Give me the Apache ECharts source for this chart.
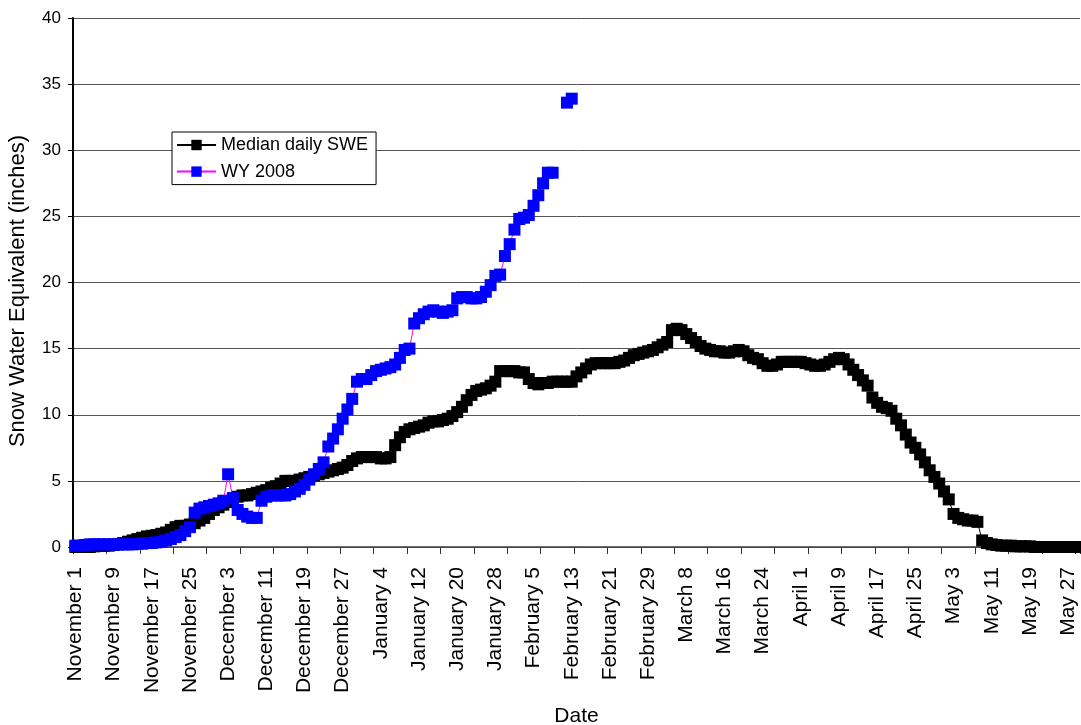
<!DOCTYPE html>
<html><head><meta charset="utf-8">
<script src="https://cdn.jsdelivr.net/npm/echarts@6/dist/echarts.min.js"></script>
<style>html,body{margin:0;padding:0;background:#fff}#chart{width:1081px;height:725px}</style>
</head><body><div id="chart"></div>
<script>
// Category labels: every day from November 1 through May 29
const monthNames = ['November', 'December', 'January', 'February', 'March', 'April', 'May'];
const monthDays = [30, 31, 31, 29, 31, 30, 29];
const categories = [];
monthNames.forEach(function (m, i) { for (let d = 1; d <= monthDays[i]; d++) categories.push(m + ' ' + d); });

// Median daily SWE (inches), one value per day
const medianSWE = [
  0, 0, 0, 0, 0.05, 0.1, 0.1, 0.1, 0.15, 0.2,
  0.3, 0.4, 0.5, 0.6, 0.7, 0.8, 0.85, 0.9, 1.0, 1.1,
  1.3, 1.5, 1.6, 1.6, 1.7, 1.8, 2.0, 2.2, 2.5, 2.8,
  3.0, 3.2, 3.4, 3.6, 3.8, 3.9, 3.9, 4.0, 4.1, 4.2,
  4.3, 4.5, 4.6, 4.8, 5.0, 5.0, 5.0, 5.1, 5.2, 5.3,
  5.4, 5.5, 5.6, 5.7, 5.8, 5.9, 6.0, 6.2, 6.5, 6.7,
  6.8, 6.8, 6.8, 6.8, 6.7, 6.7, 6.8, 7.7, 8.3, 8.7,
  8.9, 9.0, 9.1, 9.2, 9.4, 9.5, 9.5, 9.6, 9.7, 9.9,
  10.2, 10.6, 11.1, 11.5, 11.8, 11.9, 12.0, 12.2, 12.5, 13.3,
  13.3, 13.3, 13.3, 13.2, 13.2, 12.7, 12.4, 12.3, 12.4, 12.4,
  12.5, 12.5, 12.5, 12.5, 12.5, 12.9, 13.2, 13.5, 13.8, 13.9,
  13.9, 13.9, 13.9, 13.9, 14.0, 14.1, 14.3, 14.5, 14.6, 14.7,
  14.8, 14.9, 15.1, 15.3, 15.5, 16.4, 16.5, 16.4, 16.1, 15.8,
  15.5, 15.2, 15.0, 14.9, 14.8, 14.8, 14.7, 14.7, 14.8, 14.9,
  14.8, 14.5, 14.3, 14.2, 13.9, 13.7, 13.7, 13.8, 14.0, 14.0,
  14.0, 14.0, 14.0, 13.9, 13.8, 13.7, 13.7, 13.8, 14.0, 14.2,
  14.3, 14.2, 13.8, 13.4, 13.0, 12.6, 12.2, 11.3, 10.9, 10.6,
  10.5, 10.3, 9.7, 9.2, 8.5, 7.9, 7.5, 7.0, 6.4, 5.8,
  5.3, 4.8, 4.2, 3.6, 2.5, 2.2, 2.1, 2.0, 2.0, 1.9,
  0.5, 0.3, 0.2, 0.15, 0.1, 0.1, 0.1, 0.05, 0.05, 0.05,
  0.05, 0, 0, 0, 0, 0, 0, 0, 0, 0, 0
];

// WY 2008 daily SWE (inches); null = missing day
const wy2008 = [
  0.1, 0.1, 0.15, 0.2, 0.2, 0.2, 0.2, 0.2, 0.2, 0.2,
  0.2, 0.2, 0.2, 0.25, 0.25, 0.3, 0.3, 0.35, 0.4, 0.5,
  0.6, 0.75, 0.9, 1.2, 1.5, 2.6, 2.9, 3.0, 3.1, 3.2,
  3.3, 3.5, 5.5, 3.7, 2.8, 2.5, 2.3, 2.2, 2.2, 3.5,
  3.8, 3.9, 3.9, 3.9, 3.9, 4.0, 4.2, 4.4, 4.7, 5.1,
  5.5, 5.9, 6.4, 7.6, 8.2, 8.9, 9.7, 10.4, 11.2, 12.5,
  12.7, 12.7, 13.0, 13.3, 13.4, 13.5, 13.6, 13.8, 14.3, 14.9,
  15.0, 16.9, 17.3, 17.6, 17.8, 17.9, 17.8, 17.7, 17.8, 17.9,
  18.8, 18.9, 18.9, 18.8, 18.8, 18.9, 19.3, 19.8, 20.5, 20.6,
  22.0, 22.9, 24.0, 24.8, 24.9, 25.1, 25.8, 26.6, 27.5, 28.3,
  28.3, null, null, 33.6, 33.9
];

const seriesNames = ['Median daily SWE', 'WY 2008'];
const yTitle = 'Snow Water Equivalent (inches)';
const xTitle = 'Date';

const chart = echarts.init(document.getElementById('chart'), null, { renderer: 'canvas' });
chart.setOption({
  animation: false,
  backgroundColor: '#ffffff',
  textStyle: { fontFamily: '"Liberation Sans", Arial, sans-serif' },
  grid: { left: 73, right: 1, top: 18, bottom: 178, containLabel: false, outerBoundsMode: 'none' },
  legend: {
    left: 172, top: 132, orient: 'vertical',
    backgroundColor: '#ffffff', borderColor: '#000000', borderWidth: 1,
    padding: [4, 8, 4, 4], itemGap: 8.6, itemWidth: 39, itemHeight: 13,
    textStyle: { fontSize: 18, color: '#000', lineHeight: 18 },
    data: seriesNames
  },
  graphic: [{
    type: 'text', rotation: Math.PI / 2,
    x: 18, y: 291,
    style: { text: yTitle, fontSize: 22, fill: '#000', fontFamily: '"Liberation Sans", Arial, sans-serif',
             textAlign: 'center', textVerticalAlign: 'middle' }
  }],
  xAxis: {
    type: 'category', data: categories, boundaryGap: true,
    name: xTitle, nameLocation: 'middle', nameGap: 159,
    nameTextStyle: { fontSize: 21, color: '#000' },
    axisLine: { lineStyle: { color: '#404040', width: 1.5 } },
    axisTick: { show: true, alignWithLabel: false, interval: 6, length: 7, lineStyle: { color: '#333', width: 1 } },
    axisLabel: { interval: 7, rotate: 90, fontSize: 21, color: '#000', margin: 20 },
    splitLine: { show: false }
  },
  yAxis: {
    type: 'value', min: 0, max: 40, interval: 5,
    axisLine: { show: true, lineStyle: { color: '#000', width: 2 } },
    axisTick: { show: true, length: 5, lineStyle: { color: '#000' } },
    axisLabel: { fontSize: 17, color: '#000', margin: 12 },
    splitLine: { lineStyle: { color: '#555', width: 1 } }
  },
  series: [
    {
      name: seriesNames[0], type: 'line', data: medianSWE,
      symbol: 'rect', symbolSize: 12, showAllSymbol: true,
      itemStyle: { color: '#000000' }, lineStyle: { color: '#000000', width: 1 }
    },
    {
      name: seriesNames[1], type: 'line', data: wy2008,
      symbol: 'rect', symbolSize: 12, showAllSymbol: true, connectNulls: false,
      itemStyle: { color: '#0000ff' }, lineStyle: { color: '#ff00ff', width: 1 }
    }
  ]
});
</script>
</body></html>
